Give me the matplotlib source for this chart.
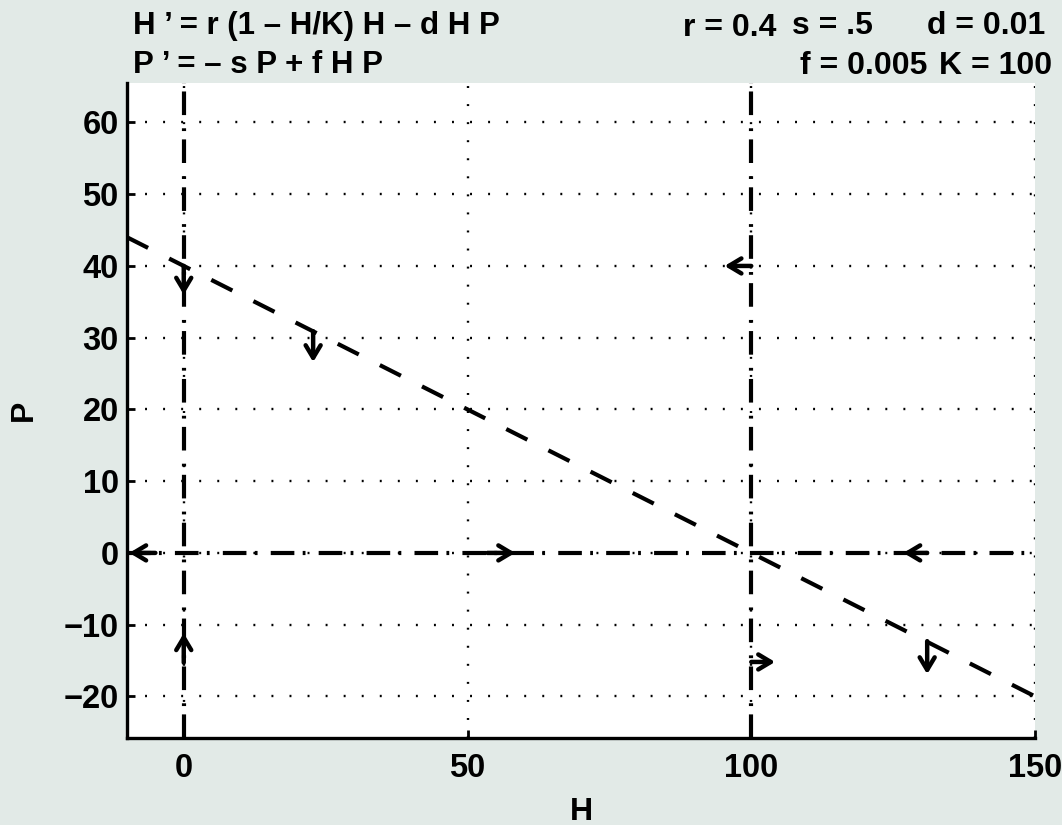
import numpy as np
import matplotlib
matplotlib.use('Agg')
import matplotlib.pyplot as plt

# model parameters (as printed on the chart)
r, s, d, f, K = 0.4, 0.5, 0.01, 0.005, 100.0

# axis ranges and ticks
h_lim = [-10, 150]
p_lim = [-25.8, 65.5]
h_ticks = [0, 50, 100, 150]
p_ticks = [-20, -10, 0, 10, 20, 30, 40, 50, 60]

# nullcline H' = 0 (slanted): P = r/d * (1 - H/K)
h_null = np.array([-10.0, 150.0])
p_null = r / d * (1 - h_null / K)

# direction arrows: (tail H, tail P, head H, head P)
arrow_tail_h = [0, 22.8, 100, -5, 0, 53.5, 131, 100, 131]
arrow_tail_p = [40, 30.9, 40, 0, -15.3, 0, 0, -15.2, -12.3]
arrow_head_h = [0, 22.8, 95.3, -9.6, 0, 58.4, 126.8, 104.2, 131]
arrow_head_p = [36, 26.6, 40, 0, -11.2, 0, 0, -15.2, -16.9]

bg = '#e2eae7'
plt.rcParams['font.family'] = ['Liberation Sans', 'DejaVu Sans']
plt.rcParams['font.weight'] = 'bold'
plt.rcParams['lines.scale_dashes'] = False

W, H = 1062, 825
fig = plt.figure(figsize=(W / 100, H / 100), dpi=100, facecolor=bg)
ax = fig.add_axes([127 / W, 1 - 738 / H, 908 / W, 655 / H])
ax.set_facecolor('white')

dashdot = (0, (17, 6, 2, 9.5))
dashed = (0, (17, 17))
lw = 3.0

# nullclines
ax.plot([0, 0], p_lim, color='k', lw=lw, linestyle=dashdot)
ax.plot([s / f, s / f], p_lim, color='k', lw=lw, linestyle=dashdot)
ax.plot(h_lim, [0, 0], color='k', lw=lw, linestyle=dashdot)
ax.plot(h_null, p_null, color='k', lw=lw, linestyle=dashed)

for th, tp, hh, hp in zip(arrow_tail_h, arrow_tail_p, arrow_head_h, arrow_head_p):
    ax.annotate('', xy=(hh, hp), xytext=(th, tp),
                arrowprops=dict(arrowstyle='->,head_length=0.5,head_width=0.3',
                                mutation_scale=18, lw=3.2, color='k',
                                shrinkA=0, shrinkB=0))

ax.set_xlim(h_lim)
ax.set_ylim(p_lim)
ax.set_xticks(h_ticks)
ax.set_yticks(p_ticks)
ax.grid(True, color='k', lw=1.7, linestyle=(0, (1.4, 11.6)))

for side in ['top', 'right']:
    ax.spines[side].set_visible(False)
for side in ['left', 'bottom']:
    ax.spines[side].set_linewidth(2.4)
ax.tick_params(direction='in', length=6, width=2, labelsize=23.5)
ax.tick_params(axis='y', pad=6)
ax.tick_params(axis='x', pad=11)

ax.set_xlabel('H', fontsize=23, fontweight='bold', va='top')
ax.xaxis.set_label_coords(0.5, -0.09)
ax.set_ylabel('P', fontsize=23, fontweight='bold', va='center')
ax.yaxis.set_label_coords(-0.114, 0.5)

# header texts
def ftext(x, y, txt, size=22.5):
    fig.text(x / W, 1 - y / H, txt, fontsize=size, fontweight='bold',
             ha='left', va='baseline')

ftext(133, 34, "H \u2019 = r (1 \u2013 H/K) H \u2013 d H P")
ftext(133, 73, "P \u2019 = \u2013 s P + f H P")
ftext(683, 36, 'r = 0.4', 23)
ftext(792, 34, 's = .5', 23)
ftext(927, 34, 'd = 0.01', 23)
ftext(800, 74, 'f = 0.005', 23)
ftext(939, 74, 'K = 100', 23)

fig.savefig('out.png', dpi=100, facecolor=bg)
